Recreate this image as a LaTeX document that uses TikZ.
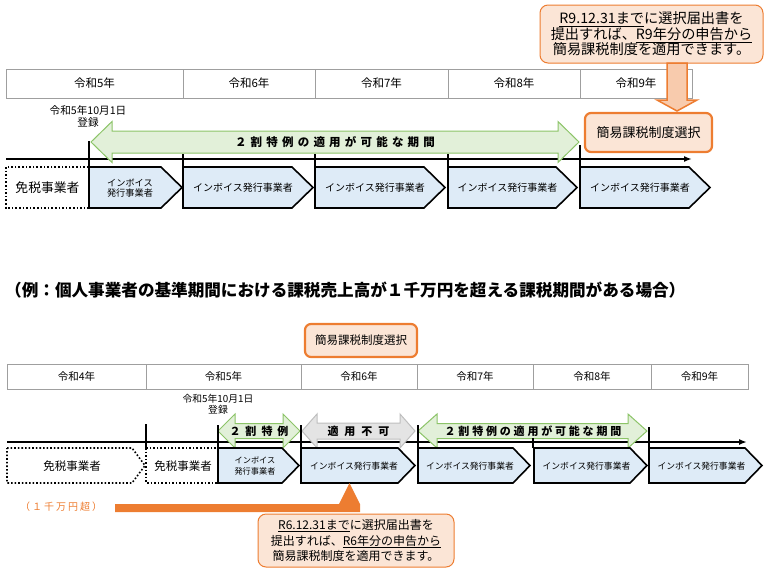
\documentclass[tikz,border=0pt]{standalone}
\usepackage{fontspec}
\setmainfont{Noto Sans CJK JP}
\usetikzlibrary{arrows.meta}

\definecolor{orgline}{HTML}{ED7D31}
\definecolor{orgfill}{HTML}{FBE5D6}
\definecolor{orgarrow}{HTML}{F8CBAD}
\definecolor{grnline}{HTML}{8CC468}
\definecolor{grnfill}{HTML}{E2F0D9}
\definecolor{invfill}{HTML}{DEEBF7}
\definecolor{gryline}{HTML}{BFBFBF}
\definecolor{gryfill}{HTML}{E4E4E4}

% letter spaced text
\makeatletter
\newcommand\spaced[2]{\def\sp@k{\kern#1}\@tfor\sp@c:=#2\do{\sp@c\sp@k}\unkern}
\makeatother

% double block arrow: style, x1, x2, yc, body half, head half, head length
\newcommand\dblarrow[7]{%
  \draw[#1] (#2,#4) -- (#2+#7,#4-#6) -- (#2+#7,#4-#5) -- (#3-#7,#4-#5) -- (#3-#7,#4-#6) -- (#3,#4)
    -- (#3-#7,#4+#6) -- (#3-#7,#4+#5) -- (#2+#7,#4+#5) -- (#2+#7,#4+#6) -- cycle;}

\tikzset{
  yearcell/.style={draw=gray!75, line width=0.8pt, inner sep=0pt, outer sep=0pt, anchor=north west},
  boxline/.style={draw=black, line width=1.6pt},
  invbox/.style={boxline, fill=invfill, line join=miter},
  taxfree/.style={draw=black, line width=1.6pt, dotted},
  okarrow/.style={draw=grnline, fill=grnfill, line width=1pt},
  ngarrow/.style={draw=gryline, fill=gryfill, line width=1pt},
  selbox/.style={draw=orgline, fill=orgfill, line width=2.2pt, rounded corners=6pt, inner sep=0pt},
  noteballoon/.style={draw=orgline, fill=orgfill, line width=1pt, rounded corners=8pt, align=center, inner sep=0pt},
  plain/.style={inner sep=0pt, align=center}
}

\begin{document}
\begin{tikzpicture}[x=1pt,y=-1pt]
\useasboundingbox (0,0) rectangle (769,571);

%%%% upper case
\foreach \n/\a/\b/\t in {a5/6/183/令和5年,a6/183/315/令和6年,a7/315/448/令和7年,a8/448/580/令和8年,a9/580/692/令和9年}
  \node[yearcell, minimum width=\b-\a, minimum height=29, font=\fontsize{11.5}{13}\selectfont] (\n) at (\a,69) {\t};
\node[plain, font=\fontsize{10.6}{12}\selectfont] (areg) at (88,116) {令和5年10月1日\\登録};

\node[noteballoon, minimum width=223, minimum height=58, font=\fontsize{14.2}{15.5}\selectfont] (anote) at (651.5,34)
  {\underline{R9.12.31まで}に選択届出書を\\提出すれば、\underline{R9年分の申告から}\\簡易課税制度を適用できます。};
\draw[draw=orgline, fill=orgarrow, line width=1.5pt, line join=miter] (667,63) -- (687,63) -- (687,100) -- (697,100) -- (677,111) -- (657,100) -- (667,100) -- cycle;
\node[selbox, minimum width=127, minimum height=39, font=\fontsize{13}{15}\selectfont] (asel) at (648.5,132.5) {簡易課税制度選択};

\draw[boxline, -{Latex[length=8pt,width=6pt]}] (6,159) -- (692,159);
\dblarrow{okarrow}{91}{579}{142}{11}{20.5}{21}
\node[plain, font=\bfseries\fontsize{11.5}{13}\selectfont] (aok) at (335,142) {\spaced{4.2pt}{２割特例の適用が可能な期間}};

\draw[boxline] (89,141) -- (89,167);
\draw[boxline] (183,154) -- (183,167);
\draw[boxline] (315,154) -- (315,167);
\draw[boxline] (448,154) -- (448,167);
\draw[boxline] (580,145) -- (580,167);

\draw[taxfree] (6,167) rectangle (89,208);
\node[plain, font=\fontsize{12.8}{14}\selectfont] (afree) at (47.5,187.5) {免税事業者};
\foreach \a/\b in {89/182,183/313,315/445,448/577,580/710}
  \draw[invbox] (\a,167) -- (\b-21,167) -- (\b,187.5) -- (\b-21,208) -- (\a,208) -- cycle;
\node[plain, font=\fontsize{9.2}{10.5}\selectfont] (ai5) at (130,188) {インボイス\\発行事業者};
\foreach \n/\a/\b in {ai6/183/313,ai7/315/445,ai8/448/577,ai9/580/710}
  \node[plain, font=\fontsize{10}{12}\selectfont] (\n) at ({(\a+\b-10)/2},187.5) {インボイス発行事業者};

%%%% caption
\node[plain, anchor=west, font=\bfseries\fontsize{16.6}{18}\selectfont] (cap) at (5,290)
  {（例：個人事業者の基準期間における課税売上高が１千万円を超える課税期間がある場合）};

%%%% lower case
\node[selbox, minimum width=112, minimum height=33, font=\fontsize{11.5}{13}\selectfont] (bsel) at (361,340.5) {簡易課税制度選択};
\foreach \n/\a/\b/\t in {b4/7/146/令和4年,b5/146/301/令和5年,b6/301/417/令和6年,b7/417/533/令和7年,b8/533/651/令和8年,b9/651/748/令和9年}
  \node[yearcell, minimum width=\b-\a, minimum height=25, font=\fontsize{10.5}{12}\selectfont] (\n) at (\a,364) {\t};
\node[plain, font=\fontsize{9.8}{10.5}\selectfont] (breg) at (218,404) {令和5年10月1日\\登録};

\draw[boxline, -{Latex[length=8pt,width=6pt]}] (7,442) -- (747,442);
\dblarrow{okarrow}{218}{300}{431}{7.5}{17}{17}
\dblarrow{ngarrow}{302}{415}{431}{8}{17}{15}
\dblarrow{okarrow}{418}{647}{431}{7.5}{17}{19}
\node[plain, font=\bfseries\fontsize{11}{13}\selectfont] (bok1) at (259,431) {\spaced{5pt}{２割特例}};
\node[plain, font=\bfseries\fontsize{11}{13}\selectfont] (bng) at (358.5,431) {\spaced{6pt}{適用不可}};
\node[plain, font=\bfseries\fontsize{11}{13}\selectfont] (bok2) at (533,431) {\spaced{2.8pt}{２割特例の適用が可能な期間}};

\draw[boxline] (146,424) -- (146,448);
\draw[boxline] (218,425) -- (218,448);
\draw[boxline] (301,425) -- (301,448);
\draw[boxline] (418,425) -- (418,448);
\draw[boxline] (533,438) -- (533,448);
\draw[boxline] (649,427) -- (649,448);

\draw[taxfree] (7,448) -- (132,448) -- (145,465.5) -- (132,483) -- (7,483) -- cycle;
\draw[taxfree] (146,448) rectangle (218,483);
\node[plain, font=\fontsize{11.5}{13}\selectfont] (bfree1) at (72,466) {免税事業者};
\node[plain, font=\fontsize{11.5}{13}\selectfont] (bfree2) at (183,466) {免税事業者};
\foreach \a/\b in {218/299,301/415,418/530,534/647,649/762}
  \draw[invbox] (\a,448) -- (\b-17,448) -- (\b,465.5) -- (\b-17,483) -- (\a,483) -- cycle;
\node[plain, font=\fontsize{8.2}{10.5}\selectfont] (bi5) at (255,466) {インボイス\\発行事業者};
\foreach \n/\a/\b in {bi6/301/415,bi7/418/530,bi8/534/647,bi9/649/762}
  \node[plain, font=\fontsize{8.8}{11}\selectfont] (\n) at ({(\a+\b-8)/2},466) {インボイス発行事業者};

\node[plain, text=orgline, font=\fontsize{10}{12}\selectfont] (over) at (61,507) {\spaced{2pt}{（１千万円超）}};
\fill[orgline] (115,504) -- (339,504) -- (349.5,483) -- (360,504) -- (360,512) -- (115,512) -- cycle;

\node[noteballoon, minimum width=196, minimum height=53, font=\fontsize{12}{15.5}\selectfont] (bnote) at (356,540.5)
  {\underline{R6.12.31まで}に選択届出書を\\提出すれば、\underline{R6年分の申告から}\\簡易課税制度を適用できます。};
\end{tikzpicture}
\end{document}
